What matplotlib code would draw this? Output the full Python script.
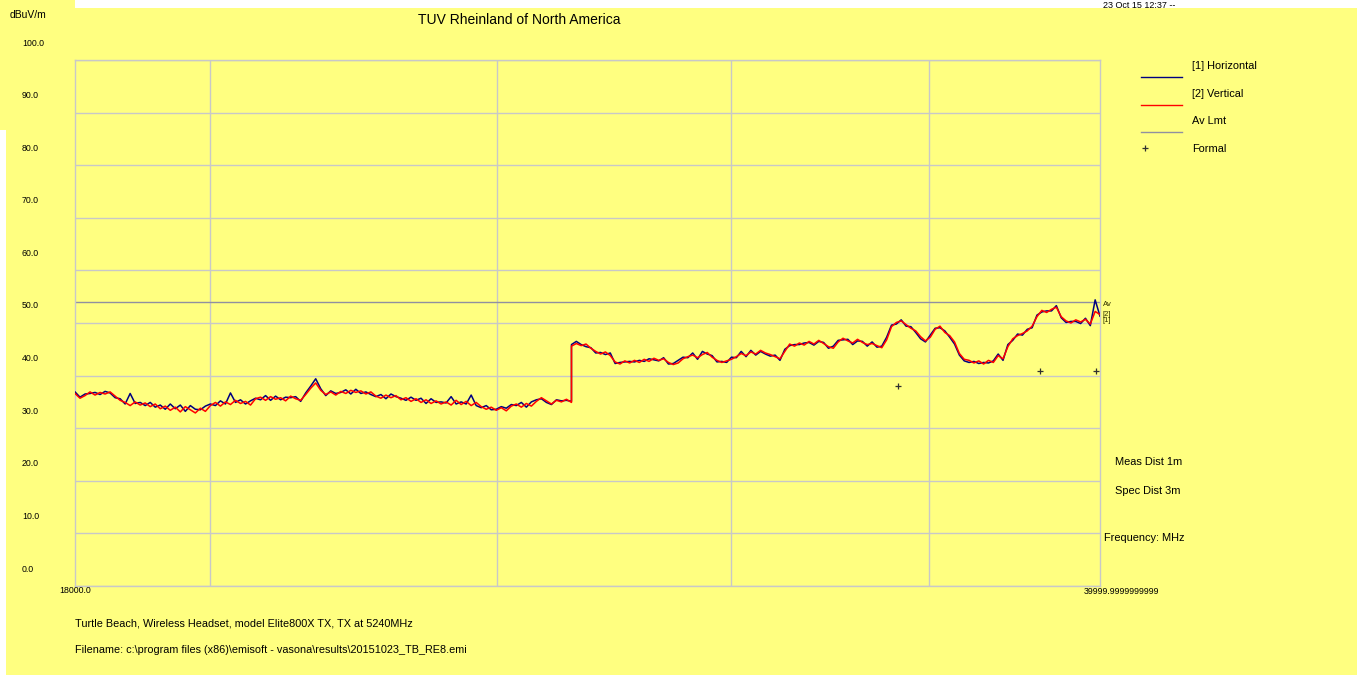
import matplotlib
matplotlib.use("Agg")
import matplotlib.pyplot as plt
import numpy as np
from matplotlib.lines import Line2D
from matplotlib.patches import Rectangle
from matplotlib.ticker import NullLocator
from matplotlib.transforms import ScaledTranslation, blended_transform_factory

plt.rcParams['font.family'] = ['Liberation Sans', 'DejaVu Sans']

W, H = 1361, 681
YELLOW = '#FFFF80'
NAVY = '#000080'
RED = '#FF0000'
LIMIT = '#9090A0'
GRID = '#C8C8C8'

# sweep: 18-26.5 GHz band, then 26.5-40 GHz band (MHz)
f_start, f_step, f_stop = 18000.0, 26500.0, 40000.0
av_limit = 54.0

# [1] Horizontal, dBuV/m
horiz_low = [36.9, 35.9, 36.5, 36.6, 36.8, 36.4, 37.0, 36.7, 35.8, 35.6,
             34.6, 36.6, 34.7, 34.9, 34.3, 34.9, 34.0, 34.4, 33.6, 34.6,
             33.7, 34.4, 33.2, 34.3, 33.6, 33.5, 34.2, 34.6, 34.3, 35.2,
             34.6, 36.7, 34.9, 35.4, 34.6, 35.2, 35.7, 35.4, 36.2, 35.3,
             36.1, 35.4, 35.9, 35.8, 36.0, 35.1, 36.7, 38.0, 39.4, 37.5,
             36.2, 37.1, 36.6, 36.8, 37.3, 36.5, 37.4, 36.6, 36.9, 36.4,
             36.0, 36.4, 35.6, 36.5, 36.0, 35.7, 35.3, 35.9, 35.3, 35.7,
             34.7, 35.6, 34.9, 35.0, 34.8, 36.0, 34.6, 35.0, 34.6, 36.3,
             34.3, 33.9, 34.3, 33.5, 33.6, 34.1, 33.8, 34.5, 34.3, 34.9,
             34.0, 35.0, 35.4, 35.6, 34.9, 34.5, 35.4, 35.2, 35.3, 35.1]
horiz_high = [45.9, 46.5, 45.9, 45.5, 45.3, 44.3, 44.4, 44.0, 44.3, 42.3,
              42.5, 42.6, 42.7, 42.6, 42.9, 42.7, 43.2, 43.0, 42.8, 43.4,
              42.2, 42.3, 42.9, 43.5, 43.4, 44.3, 43.1, 44.6, 44.1, 43.8,
              42.6, 42.7, 42.5, 43.5, 43.4, 44.6, 43.6, 44.8, 43.9, 44.6,
              44.1, 43.7, 43.9, 42.9, 45.0, 45.7, 45.9, 45.9, 46.2, 46.3,
              45.8, 46.5, 46.3, 45.2, 45.6, 46.7, 46.8, 46.9, 45.9, 46.6,
              46.5, 45.6, 46.4, 45.4, 45.6, 47.3, 49.6, 49.8, 50.6, 49.4,
              49.3, 48.2, 47.0, 46.4, 47.7, 49.0, 49.1, 48.5, 47.3, 46.0,
              43.9, 42.8, 42.5, 42.7, 42.3, 42.5, 42.4, 42.8, 44.1, 42.9,
              45.9, 46.7, 47.9, 47.7, 48.8, 49.1, 51.5, 52.1, 52.3, 52.3,
              53.3, 51.0, 50.1, 50.3, 50.3, 49.9, 50.9, 49.5, 54.4, 51.3]

# [2] Vertical, dBuV/m
vert_low = [36.6, 35.7, 36.2, 36.9, 36.3, 36.8, 36.5, 36.9, 36.1, 35.3,
            34.9, 34.3, 35.0, 34.4, 34.8, 34.1, 34.6, 33.7, 34.2, 33.4,
            34.0, 33.1, 34.1, 33.5, 32.9, 33.8, 33.2, 34.3, 34.9, 34.2,
            35.0, 34.5, 35.3, 34.7, 35.1, 34.4, 35.6, 35.9, 35.3, 36.0,
            35.5, 35.8, 35.2, 36.1, 35.6, 35.3, 36.4, 37.6, 38.6, 37.2,
            36.4, 36.9, 36.3, 37.0, 36.6, 37.2, 36.8, 37.1, 36.5, 36.9,
            36.1, 35.7, 36.3, 35.8, 36.2, 35.4, 35.8, 35.1, 35.6, 34.9,
            35.4, 34.7, 35.2, 34.6, 35.0, 34.4, 35.3, 34.5, 35.1, 34.3,
            34.9, 34.1, 33.6, 34.0, 33.4, 33.9, 33.3, 34.2, 34.6, 34.0,
            34.7, 34.2, 35.1, 35.8, 35.2, 34.6, 35.3, 35.0, 35.5, 34.9]
vert_high = [45.6, 46.1, 45.7, 46.0, 45.2, 44.6, 44.1, 44.5, 43.8, 42.6,
             42.2, 42.8, 42.4, 42.9, 42.5, 43.1, 42.7, 43.3, 42.9, 43.2,
             42.5, 42.1, 42.4, 43.2, 43.6, 43.9, 43.4, 44.0, 44.4, 43.5,
             42.9, 42.5, 42.8, 43.1, 43.6, 44.2, 43.8, 44.5, 44.1, 44.8,
             44.3, 44.0, 43.6, 43.2, 44.6, 46.0, 45.6, 46.2, 45.8, 46.5,
             46.0, 46.7, 46.1, 45.5, 45.2, 46.4, 47.1, 46.6, 46.2, 46.9,
             46.3, 45.9, 46.1, 45.7, 45.3, 46.8, 49.3, 50.1, 50.4, 49.7,
             49.0, 48.5, 47.4, 46.6, 47.3, 48.8, 49.4, 48.2, 47.6, 46.4,
             44.2, 43.1, 42.9, 42.4, 42.8, 42.2, 42.9, 42.5, 43.8, 43.2,
             45.5, 47.0, 47.6, 48.0, 48.5, 49.4, 51.2, 52.4, 52.0, 52.6,
             53.0, 51.2, 50.4, 50.0, 50.6, 50.2, 50.7, 49.8, 52.2, 51.6]

# formal measurements
formal_freq = [34180, 38170, 39880]
formal_level = [38.0, 40.9, 40.9]

y_ticks = list(range(0, 101, 10))
grid_freq = [20000, 25000, 30000, 35000]


def sweep(low, high):
    freq = np.concatenate([np.geomspace(f_start, f_step, len(low)),
                           np.geomspace(f_step, f_stop, len(high))])
    return freq, np.array(low + high)


def px(x, y):
    return x / W, 1 - y / H


fig = plt.figure(figsize=(W / 100, H / 100), dpi=100, facecolor=YELLOW)
ax = fig.add_axes([75 / W, 95 / H, 1025 / W, 526 / H], facecolor=YELLOW)

fh, lh = sweep(horiz_low, horiz_high)
fv, lv = sweep(vert_low, vert_high)
ax.plot(fh, lh, color=NAVY, lw=1.1, zorder=3)
ax.plot(fv, lv, color=RED, lw=1.1, zorder=4)
ax.plot([f_start, f_stop], [av_limit, av_limit], color=LIMIT, lw=1, zorder=2)
ax.plot(formal_freq, formal_level, '+', color='#303030', ms=4, mew=0.9, zorder=5)

ax.set_xscale('log')
ax.set_xlim(f_start, f_stop)
ax.set_ylim(0, 100)
ax.set_xticks(grid_freq)
ax.xaxis.set_minor_locator(NullLocator())
ax.set_yticks(y_ticks)
ax.tick_params(length=0, labelleft=False, labelbottom=False)
ax.grid(True, color=GRID, lw=1, zorder=1)
ax.set_axisbelow(True)
for s in ax.spines.values():
    s.set_color(GRID)
    s.set_linewidth(1)

# y labels sit a little above their grid lines
ylab_tr = blended_transform_factory(fig.transFigure, ax.transData) + \
    ScaledTranslation(0, 0.17, fig.dpi_scale_trans)
for v in y_ticks:
    ax.text(22 / W, v, f'{v:.1f}', transform=ylab_tr, ha='left', va='center',
            fontsize=6.3)

xlab_tr = blended_transform_factory(ax.transData, ax.transAxes)
ax.text(f_start, 0, '18000.0', ha='center', va='center', fontsize=6.3,
        transform=xlab_tr + ScaledTranslation(0, -0.045, fig.dpi_scale_trans))
ax.text(f_stop, 0, '39999.9999999999', ha='center', va='center', fontsize=6.3,
        transform=xlab_tr + ScaledTranslation(0.21, -0.06, fig.dpi_scale_trans))

# trace tags at the right edge
tag = dict(fontsize=5.5, color='#333300', ha='left', va='center',
           annotation_clip=False)
ax.annotate('Av', (f_stop, av_limit), xytext=(2, -2), textcoords='offset points', **tag)
ax.annotate('[2]', (f_stop, lv[-1]), xytext=(2, 0), textcoords='offset points', **tag)
ax.annotate('[1]', (f_stop, lv[-1]), xytext=(2, -4.5), textcoords='offset points', **tag)

fig.text(*px(10, 15), 'dBuV/m', fontsize=7.5, va='center')
fig.text(*px(519, 20), 'TUV Rheinland of North America', fontsize=10,
         ha='center', va='center')
fig.text(*px(1103, 5), '23 Oct 15 12:37 --', fontsize=6.5, va='center', zorder=5)

# legend
legend_rows = [('[1] Horizontal', NAVY, 66), ('[2] Vertical', RED, 94),
               ('Av Lmt', LIMIT, 121)]
for label, color, y in legend_rows:
    x0, y0 = px(1141, y + 11)
    x1, _ = px(1182, y + 11)
    fig.add_artist(Line2D([x0, x1], [y0, y0], color=color, lw=1,
                          transform=fig.transFigure))
    fig.text(*px(1192, y), label, fontsize=7.9, va='center')
fig.add_artist(Line2D([px(1145, 148)[0]], [px(1145, 148)[1]], marker='+',
                      color='#303030', ms=4, mew=0.9, transform=fig.transFigure))
fig.text(*px(1192, 149), 'Formal', fontsize=7.9, va='center')

fig.text(*px(1115, 462), 'Meas Dist 1m', fontsize=7.9, va='center')
fig.text(*px(1115, 491), 'Spec Dist 3m', fontsize=7.9, va='center')
fig.text(*px(1104, 538), 'Frequency: MHz', fontsize=7.9, va='center')

fig.text(*px(75, 623), 'Turtle Beach, Wireless Headset, model Elite800X TX, TX at 5240MHz',
         fontsize=7.8, va='center')
fig.text(*px(75, 650),
         'Filename: c:\\program files (x86)\\emisoft - vasona\\results\\20151023_TB_RE8.emi',
         fontsize=7.8, va='center')

# white page margins
for x, y, w, h in [(75, 0, W - 75, 8), (1357, 0, 4, H), (0, 675, W, 6), (0, 130, 6, H - 130)]:
    fig.add_artist(Rectangle((x / W, 1 - (y + h) / H), w / W, h / H,
                             transform=fig.transFigure, color='white', lw=0, zorder=1))

fig.savefig('out.png', dpi=100, facecolor=YELLOW)
